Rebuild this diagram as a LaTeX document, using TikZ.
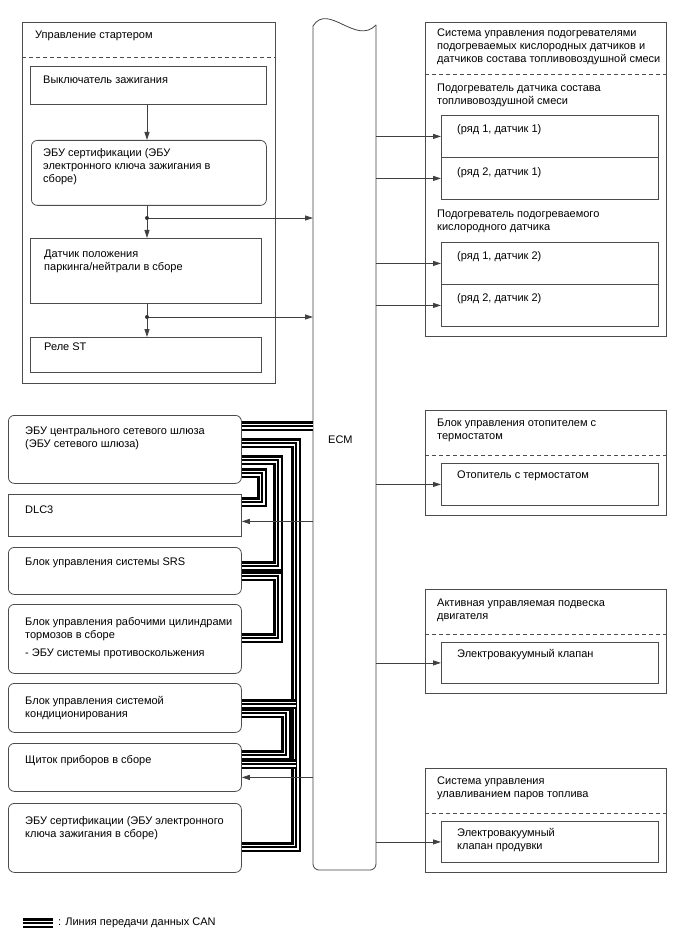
\documentclass[tikz,border=0pt]{standalone}
\usepackage{fontspec}
\setmainfont{Liberation Sans}
\usetikzlibrary{arrows.meta,calc}
\tikzset{
  bx/.style={draw=black!70, line width=0.8pt, inner sep=0pt, anchor=north west},
  rbx/.style={bx, rounded corners=6pt},
  txt/.style={anchor=north west, inner sep=0pt, align=left, font=\fontsize{11}{13}\selectfont},
  arr/.style={draw=black!75, line width=0.8pt, -{Triangle[length=8pt,width=5pt]}},
  ln/.style={draw=black!75, line width=0.8pt},
  dsh/.style={draw=black!70, line width=0.8pt, dash pattern=on 4pt off 3pt},
}
\newcommand\canline[1]{%
  \draw[black, line width=10pt, line join=miter] #1;
  \draw[white, line width=5pt, line join=miter] #1;
  \draw[black, line width=1.4pt, line join=miter] #1;}
\begin{document}
\begin{tikzpicture}[x=1pt, y=-1pt]
\useasboundingbox (0,0) rectangle (688,949);

% ---------- starter group ----------
\node[bx, minimum width=253pt, minimum height=361pt] (grpS) at (22,22) {};
\draw[dsh] (22,57) -- (275,57);
\node[txt] at (35,31) {Управление стартером};
\node[bx, minimum width=236pt, minimum height=38pt] (ign) at (30,66) {};
\node[txt] at (43,76) {Выключатель зажигания};
\node[rbx, minimum width=235pt, minimum height=65pt] (cert1) at (31,140) {};
\node[txt] at (43,148) {ЭБУ сертификации (ЭБУ\\электронного ключа зажигания в\\сборе)};
\node[bx, minimum width=231pt, minimum height=65pt] (pn) at (30,238) {};
\node[txt] at (44,250) {Датчик положения\\паркинга/нейтрали в сборе};
\node[bx, minimum width=231pt, minimum height=35pt] (st) at (30,337) {};
\node[txt] at (44,343) {Реле ST};

% ---------- ECM ----------
\node[inner sep=0pt, minimum width=63pt, minimum height=844pt, anchor=north west] (ecm) at (313,26) {};
\draw[ln] (313,26) .. controls (328,2) and (356,46) .. (376,25);
\draw[ln, rounded corners=6pt] (376,25) -- (376,870) -- (313,870) -- (313,26);
\node[txt] (ecmlbl) at (328,436) {ECM};

% ---------- left CAN boxes ----------
\node[rbx, minimum width=233pt, minimum height=68pt] (gw) at (8,415) {};
\node[txt] at (25,427) {ЭБУ центрального сетевого шлюза\\(ЭБУ сетевого шлюза)};
\node[bx, minimum width=233pt, minimum height=42pt] (dlc) at (8,494) {};
\node[txt] at (25,506) {DLC3};
\node[rbx, minimum width=233pt, minimum height=47pt] (srs) at (8,547) {};
\node[txt] at (25,558) {Блок управления системы SRS};
\node[rbx, minimum width=233pt, minimum height=69pt] (brk) at (8,604) {};
\node[txt] at (25,617) {Блок управления рабочими цилиндрами\\тормозов в сборе\\[5pt]- ЭБУ системы противоскольжения};
\node[rbx, minimum width=233pt, minimum height=49pt] (ac) at (8,683) {};
\node[txt] at (25,696) {Блок управления системой\\кондиционирования};
\node[rbx, minimum width=233pt, minimum height=48pt] (ins) at (8,743) {};
\node[txt] at (25,755) {Щиток приборов в сборе};
\node[rbx, minimum width=233pt, minimum height=69pt] (cert2) at (8,803) {};
\node[txt] at (25,816) {ЭБУ сертификации (ЭБУ электронного\\ключа зажигания в сборе)};

% ---------- right groups ----------
\node[bx, minimum width=241pt, minimum height=314pt] (grpA) at (425,22) {};
\draw[dsh] (425,74) -- (666,74);
\node[txt] at (437,29) {Система управления подогревателями\\подогреваемых кислородных датчиков и\\датчиков состава топливовоздушной смеси};
\node[txt] at (437,84) {Подогреватель датчика состава\\топливовоздушной смеси};
\node[bx, minimum width=217pt, minimum height=42pt] (r11) at (441,115) {};
\node[txt] at (457,124) {(ряд 1, датчик 1)};
\node[bx, minimum width=217pt, minimum height=42pt] (r21) at (441,157) {};
\node[txt] at (457,167) {(ряд 2, датчик 1)};
\node[txt] at (437,210) {Подогреватель подогреваемого\\кислородного датчика};
\node[bx, minimum width=217pt, minimum height=42pt] (r12) at (441,242) {};
\node[txt] at (457,251) {(ряд 1, датчик 2)};
\node[bx, minimum width=217pt, minimum height=42pt] (r22) at (441,284) {};
\node[txt] at (457,293) {(ряд 2, датчик 2)};

\node[bx, minimum width=241pt, minimum height=105pt] (grpB) at (425,410) {};
\draw[dsh] (425,455) -- (666,455);
\node[txt] at (437,419) {Блок управления отопителем с\\термостатом};
\node[bx, minimum width=217pt, minimum height=42pt] (heat) at (441,463) {};
\node[txt] at (457,471) {Отопитель с термостатом};

\node[bx, minimum width=241pt, minimum height=104pt] (grpC) at (425,589) {};
\draw[dsh] (425,634) -- (666,634);
\node[txt] at (437,599) {Активная управляемая подвеска\\двигателя};
\node[bx, minimum width=217pt, minimum height=41pt] (evac) at (441,642) {};
\node[txt] at (457,649) {Электровакуумный клапан};

\node[bx, minimum width=241pt, minimum height=104pt] (grpD) at (425,768) {};
\draw[dsh] (425,813) -- (666,813);
\node[txt] at (437,777) {Система управления\\улавливанием паров топлива};
\node[bx, minimum width=217pt, minimum height=41pt] (purge) at (441,821) {};
\node[txt] at (457,828) {Электровакуумный\\клапан продувки};

% ---------- starter connectors ----------
\coordinate (j1) at (147,218);
\coordinate (j2) at (147,317);
\draw[arr] (ign.south -| j1) -- (cert1.north -| j1);
\draw[ln] (cert1.south -| j1) -- (j1);
\draw[arr] (j1) -- (pn.north -| j1);
\draw[arr] (j1) -- (j1 -| ecm.west);
\fill[black!80] (j1) circle (2pt);
\draw[ln] (pn.south -| j2) -- (j2);
\draw[arr] (j2) -- (st.north -| j2);
\draw[arr] (j2) -- (j2 -| ecm.west);
\fill[black!80] (j2) circle (2pt);

% ---------- right connectors ----------
\foreach \b in {r11,r21,r12,r22,heat,evac,purge}{
  \draw[arr] (\b.west -| ecm.east) -- (\b.west);
}

% ---------- CAN lines ----------
\coordinate (g0) at ([yshift=-11pt]gw.north east);
\coordinate (g1) at ([yshift=-28pt]gw.north east);
\coordinate (g2) at ([yshift=-45pt]gw.north east);
\coordinate (g3) at ([yshift=-58pt]gw.north east);
\coordinate (d0) at ([yshift=-8pt]dlc.north east);
\coordinate (s0) at ([yshift=-19pt]srs.north east);
\coordinate (s1) at ([yshift=-29pt]srs.north east);
\coordinate (b0) at ([yshift=-34pt]brk.north east);
\coordinate (a0) at ([yshift=-21pt]ac.north east);
\coordinate (a1) at ([yshift=-30pt]ac.north east);
\coordinate (i0) at ([yshift=-12pt]ins.north east);
\coordinate (i1) at ([yshift=-21pt]ins.north east);
\coordinate (c0) at ([yshift=-44pt]cert2.north east);
\coordinate (tx) at (296,0);
\coordinate (ix) at (286,0);
\coordinate (mx) at (278,0);
\coordinate (dx) at (262,0);

\canline{(g1) -- (g1 -| tx) -- (c0 -| tx) -- (c0)}
\canline{(a0) -- (a0 -| tx)}
\canline{(i1) -- (i1 -| tx)}
\canline{(a1) -- (a1 -| ix) -- (i0 -| ix) -- (i0)}
\canline{(g2) -- (g2 -| mx) -- (s0 -| mx) -- (s0)}
\canline{(s1) -- (s1 -| mx) -- (b0 -| mx) -- (b0)}
\canline{(g3) -- (g3 -| dx) -- (d0 -| dx) -- (d0)}
\canline{(g0) -- (g0 -| ecm.west)}

% ---------- ECM to DLC3 and instrument panel ----------
\coordinate (dlcin) at ([yshift=-6pt]dlc.east);
\coordinate (insin) at ([yshift=-10pt]ins.east);
\draw[arr] (dlcin -| ecm.west) -- (dlcin);
\draw[arr] (insin -| ecm.west) -- (insin);

% ---------- legend ----------
\coordinate (lg1) at (23,923);
\coordinate (lg2) at (53,923);
\canline{(lg1) -- (lg2)}
\node[txt] (lgtxt) at (58,918) {: Линия передачи данных CAN};
\end{tikzpicture}
\end{document}
